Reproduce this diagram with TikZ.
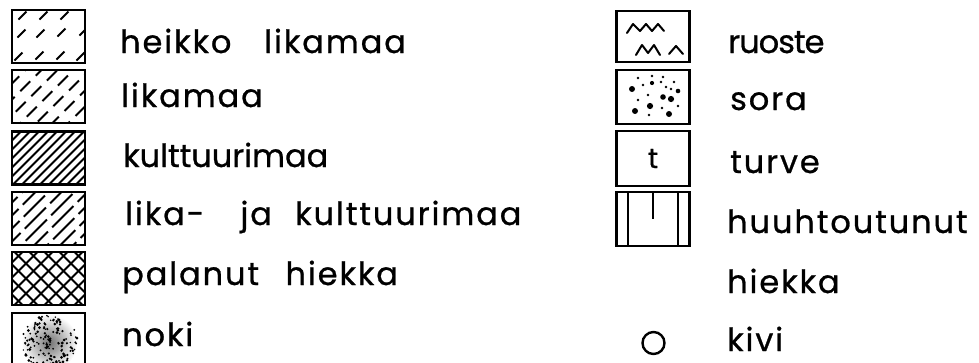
\documentclass[tikz,border=0pt]{standalone}
\usepackage{fontspec}
\setmainfont{Poppins}
\newfontfamily\legendfont{Poppins}[LetterSpace=6, FakeBold=0.8]
\newfontfamily\legendplain{Poppins}[LetterSpace=0, FakeBold=0.8]
\newfontfamily\legendtight{Poppins}[LetterSpace=-3, FakeBold=0.8]
\usetikzlibrary{positioning}

\begin{document}
\begin{tikzpicture}[
    x=1pt, y=-1pt,
    swatch/.style={draw, line width=2.4pt, minimum width=73pt, minimum height=53pt, inner sep=0pt},
    hatch/.style={line width=2.1pt},
    legend/.style={anchor=base west, inner sep=0pt, font=#1\fontsize{32}{32}\selectfont},
    legend/.default=\legendfont
]
\useasboundingbox (0,0) rectangle (979,362);

% left column
\node[swatch] (heikko) at (48.5,36.5) {};
\node[swatch] (lika) at (48.5,96.5) {};
\node[swatch] (kult) at (48.5,158) {};
\node[swatch] (likakult) at (48.5,218.5) {};
\node[swatch] (palanut) at (48.5,278.5) {};
\node[swatch] (noki) at (48.5,339.5) {};

% right column
\node[swatch, minimum height=51pt] (ruoste) at (653,36.5) {};
\node[swatch, minimum height=54pt] (sora) at (653,97) {};
\node[swatch, minimum height=55pt, font=\legendfont\fontsize{28}{28}\selectfont] (turve) at (653,158.5) {t};
\node[swatch, minimum height=54pt] (huuht) at (653,219) {};
\node[draw, circle, line width=2.4pt, minimum size=22pt, inner sep=0pt] (kivi) at (653.5,343) {};

% patterns
\begin{scope}[shift={(heikko.center)}, hatch]
  \clip (-36.5,-26.5) rectangle (36.5,26.5);
  \foreach \cx/\cy in {-26/-21, -5/-21, 16/-21,
                       -27/-3, -8/-3, 13/-4, 35/-5,
                       -30/20, -9/19, 12/19, 32/20}
    \draw (\cx-4,\cy+4) -- (\cx+4,\cy-4);
\end{scope}

\begin{scope}[shift={(lika.center)}, hatch]
  \clip (-36.5,-26.5) rectangle (36.5,26.5);
  \foreach \k [count=\i] in {-92,-76,...,40}
    \draw[dash pattern=on 14pt off 8pt, dash phase=\i*7pt] (\k,26.5) -- (\k+53,-26.5);
\end{scope}

\begin{scope}[shift={(kult.center)}, hatch]
  \clip (-36.5,-27) rectangle (36.5,27);
  \foreach \k in {-90,-81,...,40}
    \draw (\k,27) -- (\k+54,-27);
\end{scope}

\begin{scope}[shift={(likakult.center)}, hatch]
  \clip (-36.5,-26.5) rectangle (36.5,26.5);
  \foreach \k [count=\i] in {-92,-79,...,40}
    \draw[dash pattern=on 30pt off 6pt, dash phase=\i*17pt] (\k,26.5) -- (\k+53,-26.5);
\end{scope}

\begin{scope}[shift={(palanut.center)}, hatch]
  \clip (-36.5,-26.5) rectangle (36.5,26.5);
  \foreach \k in {-94,-79,...,40} {
    \draw (\k,26.5) -- (\k+53,-26.5);
    \draw (\k,-26.5) -- (\k+53,26.5);
  }
\end{scope}

\begin{scope}[shift={(noki.center)}]
  \clip (-36.5,-26.5) rectangle (36.5,26.5);
  \begin{scope}[shift={(1,3)}]
    \shade[inner color=black!55, outer color=white] (0,0) circle (28);
    \pgfmathsetseed{11}
    \foreach \i in {1,...,150} {
      \pgfmathsetmacro\rr{28*sqrt(rnd)}
      \pgfmathsetmacro\aa{360*rnd}
      \pgfmathsetmacro\ss{0.8+0.8*rnd}
      \fill (\aa:\rr) circle (\ss);
    }
  \end{scope}
\end{scope}

\begin{scope}[line width=2pt, line join=round, line cap=round]
  \draw (627,33) -- (633,24) -- (640,31) -- (646,24) -- (652,31) -- (658,24) -- (664,31);
  \draw (636,55) -- (642,45) -- (648,53) -- (654,45) -- (660,55);
  \draw (669,54) -- (676,46) -- (683,54);
\end{scope}

\foreach \dx/\dy/\rr in {638/78/1.3, 652/76/1.3, 663/77/1.3, 661/82/1.3, 674/82/1.3,
                         643/85/1.3, 652/83/2.1, 632/89/3, 666/87/1.3, 671/89/1.3,
                         678/91/2.3, 648/95/1.3, 663/97/2.8, 671/99/3.1, 638/100/1.3,
                         650/106/3.1, 678/106/1.3, 662/108/1.3, 635/111/3,
                         649/115/1.4, 669/114/3}
  \fill (\dx,\dy) circle (\rr);

\draw[line width=2.4pt] (628,192) -- (628,246);
\draw[line width=2.4pt] (678,192) -- (678,246);
\draw[line width=2pt] (653,192) -- (653,219);

% labels
\node[legend] (t-heikko) at (120,53) {heikko\hspace{0.7em} likamaa};
\node[legend] (t-lika) at (121,107) {likamaa};
\node[legend=\legendplain] (t-kult) at (123,167) {kulttuurimaa};
\node[legend] (t-likakult) at (125,225) {lika-\hspace{0.8em} ja\hspace{0.4em} kulttuurimaa};
\node[legend] (t-palanut) at (122,285) {palanut\hspace{0.5em} hiekka};
\node[legend] (t-noki) at (122,346) {noki};

\node[legend=\legendtight] (t-ruoste) at (728,53) {ruoste};
\node[legend] (t-sora) at (730,110) {sora};
\node[legend] (t-turve) at (730,173) {turve};
\node[legend] (t-huuht) at (727,233) {huuhtoutunut};
\node[legend] (t-hiekka) at (727,293) {hiekka};
\node[legend] (t-kivi) at (727,351) {kivi};

\end{tikzpicture}
\end{document}
